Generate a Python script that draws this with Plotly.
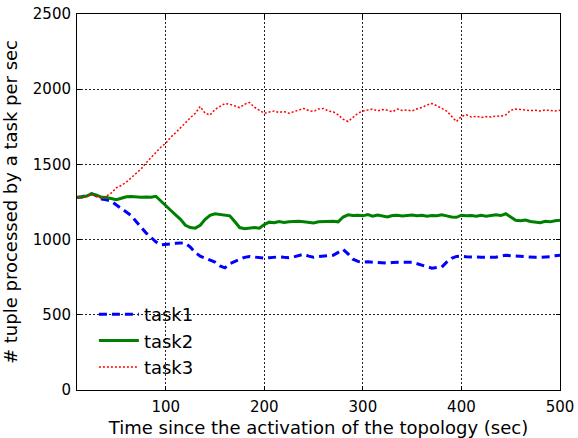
import plotly.graph_objects as go

# Sampling times (sec) since the topology was activated
time_sec = list(range(10, 501, 5))

task1 = [1280, 1285, 1295, 1305, 1290, 1270, 1265, 1255, 1230, 1205,
         1185, 1160, 1120, 1080, 1045, 1015, 985, 965, 970, 975,
         975, 978, 975, 950, 915, 890, 875, 865, 850, 825,
         812, 840, 855, 872, 882, 888, 885, 880, 876, 880,
         883, 885, 882, 880, 885, 895, 903, 890, 883, 888,
         890, 892, 896, 915, 935, 905, 870, 855, 850, 852,
         850, 850, 848, 843, 848, 850, 850, 850, 850, 840,
         830, 820, 810, 815, 817, 850, 876, 888, 890, 886,
         883, 884, 883, 883, 884, 883, 890, 896, 893, 890,
         888, 884, 883, 882, 883, 884, 886, 892, 896]

task2 = [1281, 1283, 1290, 1305, 1295, 1281, 1280, 1275, 1265, 1275,
         1285, 1287, 1283, 1282, 1283, 1281, 1288, 1255, 1225, 1195,
         1165, 1135, 1095, 1080, 1076, 1095, 1135, 1162, 1172, 1168,
         1165, 1158, 1120, 1080, 1072, 1078, 1080, 1076, 1100, 1116,
         1112, 1120, 1114, 1118, 1120, 1122, 1118, 1116, 1110, 1118,
         1121, 1120, 1122, 1118, 1150, 1165, 1160, 1162, 1158, 1166,
         1155, 1163, 1158, 1150, 1160, 1162, 1157, 1160, 1164, 1158,
         1162, 1155, 1160, 1158, 1165, 1158, 1150, 1148, 1162, 1158,
         1160, 1155, 1162, 1155, 1160, 1165, 1160, 1172, 1150, 1128,
         1125, 1130, 1120, 1115, 1112, 1122, 1118, 1125, 1128]

task3 = [1283, 1278, 1292, 1302, 1285, 1275, 1290, 1310, 1345, 1360,
         1382, 1410, 1440, 1470, 1510, 1545, 1580, 1614, 1640, 1680,
         1710, 1745, 1775, 1810, 1840, 1885, 1840, 1828, 1865, 1885,
         1905, 1900, 1890, 1878, 1900, 1912, 1880, 1860, 1840, 1848,
         1855, 1845, 1852, 1840, 1850, 1860, 1872, 1858, 1852, 1868,
         1872, 1855, 1850, 1830, 1800, 1785, 1815, 1840, 1855, 1860,
         1868, 1855, 1865, 1860, 1850, 1868, 1858, 1862, 1855, 1870,
         1878, 1895, 1905, 1890, 1870, 1855, 1820, 1785, 1820, 1830,
         1815, 1820, 1812, 1818, 1815, 1822, 1820, 1830, 1860, 1868,
         1865, 1862, 1858, 1860, 1855, 1862, 1858, 1855, 1860]

x_ticks = [100, 200, 300, 400, 500]
y_ticks = [0, 500, 1000, 1500, 2000, 2500]

FONT = "DejaVu Sans"

fig = go.Figure()
fig.add_trace(go.Scatter(x=time_sec, y=task1, mode="lines", name="task1",
                         line=dict(color="#0000ff", width=3, dash="8px,5px")))
fig.add_trace(go.Scatter(x=time_sec, y=task2, mode="lines", name="task2",
                         line=dict(color="#008000", width=3, dash="solid")))
fig.add_trace(go.Scatter(x=time_sec, y=task3, mode="lines", name="task3",
                         line=dict(color="#ff0000", width=1.5, dash="2px,2px")))

axis_common = dict(
    showline=True, linecolor="black", linewidth=1, mirror="ticks",
    ticks="inside", ticklen=4, tickcolor="black", tickwidth=1,
    showgrid=True, gridcolor="#222222", griddash="1.5px,2.5px", gridwidth=1,
    zeroline=False, automargin=False,
    tickfont=dict(family=FONT, size=15, color="black"),
)

fig.update_xaxes(range=[10, 500], tickvals=x_ticks, ticklabelstandoff=3,
                 title=dict(text="Time since the activation of the topology (sec)",
                            font=dict(family=FONT, size=18, color="black"), standoff=6),
                 **axis_common)
fig.update_yaxes(range=[0, 2500], tickvals=y_ticks, ticklabelstandoff=2,
                 title=dict(text="# tuple processed by a task per sec",
                            font=dict(family=FONT, size=18, color="black"), standoff=10),
                 **axis_common)

fig.update_layout(
    width=578, height=438,
    margin=dict(l=77, r=18, t=14, b=48),
    paper_bgcolor="white", plot_bgcolor="white",
    font=dict(family=FONT, color="black"),
    legend=dict(x=0.035, y=0.25, xanchor="left", yanchor="top",
                bgcolor="rgba(0,0,0,0)", borderwidth=0,
                font=dict(family=FONT, size=18, color="black"),
                itemwidth=40, tracegroupgap=0),
)

fig.write_html("out.html")
